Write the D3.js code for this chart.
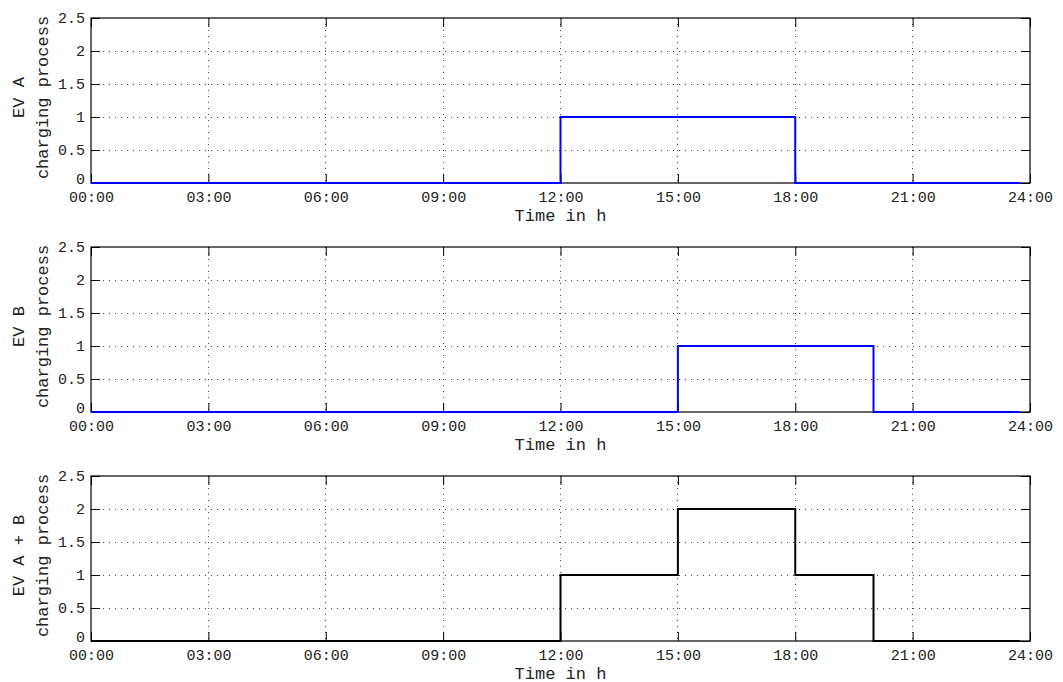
<!DOCTYPE html>
<html>
<head>
<meta charset="utf-8">
<script src="https://cdn.jsdelivr.net/npm/d3@7"></script>
<style>
  body { margin: 0; background: #fff; }
  svg text { font-family: "Liberation Mono", "DejaVu Sans Mono", monospace; fill: #222; }
</style>
</head>
<body>
<div id="chart"></div>
<script>
// step breakpoints (hours) and values of each charging profile
var hours = [0, 12, 15, 18, 20, 23.75];
var evA = [0, 1, 1, 0, 0, 0];
var evB = [0, 0, 1, 1, 0, 0];
var evSum = [0, 1, 2, 1, 0, 0];

var xTicks = [0, 3, 6, 9, 12, 15, 18, 21, 24];
var xTickLabels = ["00:00", "03:00", "06:00", "09:00", "12:00", "15:00", "18:00", "21:00", "24:00"];
var yTicks = [0, 0.5, 1, 1.5, 2, 2.5];

var panels = [
  { name: "EV A", values: evA, color: "#0000ff" },
  { name: "EV B", values: evB, color: "#0000ff" },
  { name: "EV A + B", values: evSum, color: "#000000" }
];

var W = 1063, H = 682;
var left = 91, right = 1030;
var tops = [18, 247, 476], ph = 165;
var tickLen = 9;

var svg = d3.select("#chart").append("svg")
  .attr("width", W)
  .attr("height", H);

var x = d3.scaleLinear().domain([0, 24]).range([left, right]);

panels.forEach(function(p, i) {
  var top = tops[i];
  var y = d3.scaleLinear().domain([0, 2.5]).range([top + ph, top]);
  var g = svg.append("g");

  // dotted grid
  g.selectAll(".vg").data(xTicks.slice(1, -1)).enter().append("line")
    .attr("x1", function(d) { return x(d); })
    .attr("x2", function(d) { return x(d); })
    .attr("y1", top).attr("y2", top + ph)
    .attr("stroke", "#444").attr("stroke-width", 1)
    .attr("stroke-dasharray", "1,5").attr("shape-rendering", "crispEdges");
  g.selectAll(".hg").data(yTicks.slice(1, -1)).enter().append("line")
    .attr("y1", function(d) { return y(d); })
    .attr("y2", function(d) { return y(d); })
    .attr("x1", left).attr("x2", right)
    .attr("stroke", "#444").attr("stroke-width", 1)
    .attr("stroke-dasharray", "1,5").attr("shape-rendering", "crispEdges");

  // axes (ticks inside, mirrored on the opposite side)
  g.append("g").attr("transform", "translate(0," + (top + ph) + ")")
    .call(d3.axisBottom(x).tickValues(xTicks).tickSizeInner(-tickLen).tickSizeOuter(0)
      .tickPadding(8).tickFormat(function(d, j) { return xTickLabels[j]; }))
    .call(function(a) { a.select(".domain").remove(); a.selectAll("text").attr("font-size", 15); });
  g.append("g").attr("transform", "translate(0," + top + ")")
    .call(d3.axisTop(x).tickValues(xTicks).tickSizeInner(-tickLen).tickSizeOuter(0).tickFormat(""))
    .call(function(a) { a.select(".domain").remove(); });
  g.append("g").attr("transform", "translate(" + left + ",0)")
    .call(d3.axisLeft(y).tickValues(yTicks).tickSizeInner(-tickLen).tickSizeOuter(0)
      .tickPadding(6).tickFormat(d3.format("")))
    .call(function(a) {
      a.select(".domain").remove();
      a.selectAll("text").attr("font-size", 15)
        .attr("dy", function(d) { return d === 0 ? "0.05em" : "0.32em"; });
    });
  g.append("g").attr("transform", "translate(" + right + ",0)")
    .call(d3.axisRight(y).tickValues(yTicks).tickSizeInner(-tickLen).tickSizeOuter(0).tickFormat(""))
    .call(function(a) { a.select(".domain").remove(); });

  g.selectAll(".tick line").attr("stroke", "#000");

  // box
  g.append("rect")
    .attr("x", left).attr("y", top)
    .attr("width", right - left).attr("height", ph)
    .attr("fill", "none").attr("stroke", "#000").attr("stroke-width", 1.2);

  // step line
  var line = d3.line()
    .x(function(d) { return x(d[0]); })
    .y(function(d) { return y(d[1]); })
    .curve(d3.curveStepAfter);
  g.append("path")
    .datum(hours.map(function(h, j) { return [h, p.values[j]]; }))
    .attr("d", line)
    .attr("fill", "none")
    .attr("stroke", p.color)
    .attr("stroke-width", 2);

  // labels
  g.append("text")
    .attr("x", (left + right) / 2)
    .attr("y", top + ph + 37.5)
    .attr("text-anchor", "middle")
    .attr("font-size", 17)
    .text("Time in h");

  var yl = g.append("text")
    .attr("transform", "translate(24," + (top + ph / 2 - 3) + ") rotate(-90)")
    .attr("text-anchor", "middle")
    .attr("font-size", 17);
  yl.append("tspan").attr("x", 0).attr("dy", 0).text(p.name);
  yl.append("tspan").attr("x", 0).attr("dy", 24).text("charging process");
});
</script>
</body>
</html>
